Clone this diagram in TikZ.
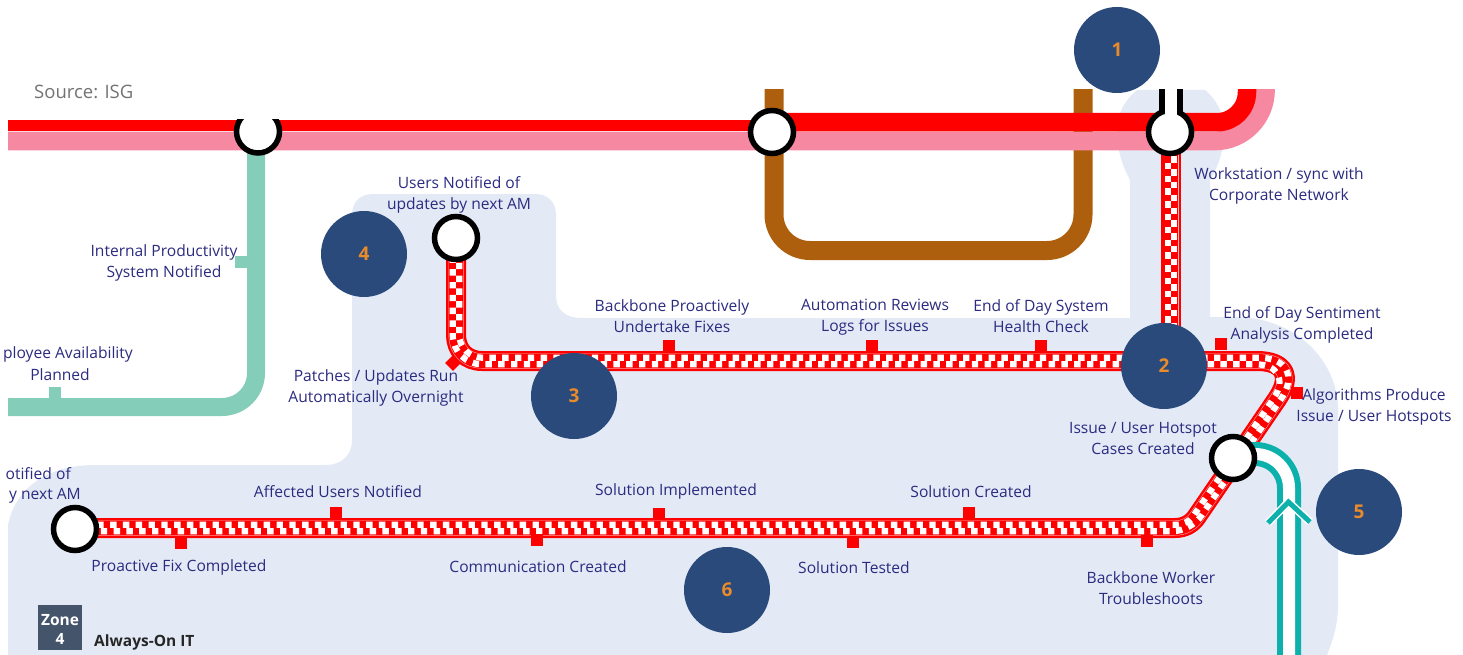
\documentclass[tikz,border=0pt]{standalone}
\usepackage{fontspec}
\setmainfont{Open Sans}
\usetikzlibrary{calc}
\definecolor{zonebg}{HTML}{E3EAF6}
\definecolor{linered}{HTML}{FF0000}
\definecolor{linepink}{HTML}{F688A2}
\definecolor{linebrown}{HTML}{AE5F0E}
\definecolor{linegreen}{HTML}{84CDB9}
\definecolor{lineteal}{HTML}{0DB1AC}
\definecolor{labelblue}{HTML}{2B2B80}
\definecolor{badge}{HTML}{2A4A7B}
\definecolor{badgetext}{HTML}{E98B2A}
\definecolor{zonebox}{HTML}{44546A}
\definecolor{railedge}{HTML}{FFB4B4}
\tikzset{
  x=1pt,y=-1pt,
  lbl/.style={inner sep=0pt,yshift=-1.5pt,text=labelblue,align=center,font=\fontsize{15.6}{21}\selectfont},
  ring/.style={circle,draw=black,line width=5.5pt,fill=white,minimum size=43pt,inner sep=0pt},
  badgenode/.style={circle,fill=badge,minimum size=86pt,inner sep=0pt,text=badgetext,font=\fontsize{19}{20}\selectfont\bfseries},
  stub/.style={fill=linered,minimum width=12pt,minimum height=12pt,inner sep=0pt},
  gstub/.style={fill=linegreen,minimum width=12pt,minimum height=12pt,inner sep=0pt},
  railbase/.style={draw=linered,line width=20pt,line join=round},
  railedgeline/.style={draw=railedge,line width=15pt,line join=round},
  railcore/.style={draw=linered,line width=14pt,line join=round},
  railrow/.style={draw=white,line width=6.2pt,dash pattern=on 6.4pt off 6.4pt},
}
\newcommand{\longrail}{(cD) -- (456,335) .. controls (456,350) and (466,361) .. (482,361)
  -- (1257,361) .. controls (1284.6,361) and (1292.6,376.2) .. (1277.1,399)
  -- (1196.9,516.4) .. controls (1192.2,523.3) and (1185,528) .. (1175,528) -- (railF)}
\begin{document}
\begin{tikzpicture}
\useasboundingbox (0,0) rectangle (1463,655);
\coordinate (cA) at (258,131.5);
\coordinate (cB) at (772,132);
\coordinate (cC) at (1170,132);
\coordinate (cD) at (456,238);
\coordinate (cE) at (1233,458);
\coordinate (cF) at (75,529);
\coordinate (railF) at (75,528);
\begin{scope}
\clip (8,90) rectangle (1463,655);
% zone background
\fill[zonebg] (8,655) -- (8,525) .. controls (15,490) and (45,465) .. (95,465)
 -- (325,465) .. controls (342,465) and (352,455) .. (352,440)
 -- (352,215) .. controls (352,202) and (360,194) .. (373,194)
 -- (535,194) .. controls (548,194) and (556,202) .. (556,215)
 -- (556,295) .. controls (556,310) and (565,318) .. (582,318)
 -- (1130,318) -- (1130,180) .. controls (1122,165) and (1117,150) .. (1117,130)
 .. controls (1117,112) and (1127,98) .. (1137,90)
 -- (1205,90) .. controls (1215,98) and (1224,112) .. (1224,130)
 .. controls (1224,150) and (1219,165) .. (1210,180)
 -- (1210,317) -- (1235,317) .. controls (1295,317) and (1338,360) .. (1338,410)
 -- (1338,605) .. controls (1338,625) and (1333,640) .. (1327,655) -- cycle;
\coordinate (gEnd) at (8,407);
\coordinate (pinkL) at (8,141);
\coordinate (pinkR) at (1265.5,80);
\coordinate (redL) at (8,125.75);
\coordinate (redM) at (772,125.75);
\coordinate (redR) at (1247,80);
\coordinate (brownA) at (774,80);
\coordinate (brownB) at (1083,80);
\coordinate (tealEnd) at (1289,665);
% brown
\draw[linebrown,line width=19pt,rounded corners=36pt] (brownA) -- (774,250.5) -- (1083,250.5) -- (brownB);
% green
\draw[linegreen,line width=18pt,rounded corners=34pt] (256,132) -- (256,407) -- (gEnd);
\node[gstub] (g1) at (241,262) {};
\node[gstub] (g2) at (55,393) {};
% main line
\draw[linepink,line width=18.75pt] (pinkL) -- (1214.5,141) .. controls (1242.6,141) and (1265.5,118.2) .. (1265.5,90) -- (pinkR);
\draw[linered,line width=11.5pt] (redL) -- (redM);
\draw[linered,line width=18.5pt] (772,122.25) -- (1217,122.25) .. controls (1233.5,122.25) and (1247,108.8) .. (1247,92) -- (redR);
% checker rail: vertical
\draw[railbase] (1171,132) -- (1171,361);
\draw[railedgeline] (1171,132) -- (1171,361);
\draw[railcore] (1171,132) -- (1171,361);
\draw[railrow] (1167.75,150) -- (1167.75,361);
\draw[railrow,dash phase=6.4pt] (1174.25,150) -- (1174.25,361);
% checker rail: long run
\draw[railbase] \longrail;
\draw[railedgeline] \longrail;
\draw[railcore] \longrail;
% rows
\draw[railrow,rounded corners=23pt] (459.25,250) -- (459.25,357.75) -- (1150,357.75);
\draw[railrow,dash phase=6.4pt,rounded corners=29pt] (452.75,250) -- (452.75,364.25) -- (1150,364.25);
\draw[railrow,rounded corners=50pt] (1150,357.75) -- (1309.1,357.75) -- (1245.6,451);
\draw[railrow,dash phase=6.4pt,rounded corners=42pt] (1150,364.25) -- (1296.9,364.25) -- (1237.8,451);
\draw[railrow,rounded corners=18pt] (1245.6,451) -- (1190.7,531.25) -- (90,531.25);
\draw[railrow,dash phase=6.4pt,rounded corners=10pt] (1237.8,451) -- (1187.3,524.75) -- (90,524.75);
% stubs
\node[stub] (t1) at (669,346) {};
\node[stub] (t2) at (872,346) {};
\node[stub] (t3) at (1041,346) {};
\node[stub] (t4) at (1221,343.5) {};
\node[stub] (t5) at (1296.5,392.5) {};
\node[stub,rotate=45,minimum width=11pt,minimum height=11pt] (t6) at (453,363) {};
\node[stub] (b1) at (336,513) {};
\node[stub] (b2) at (659,514) {};
\node[stub] (b3) at (969,512.5) {};
\node[stub] (b4) at (181,543) {};
\node[stub] (b5) at (537,540) {};
\node[stub] (b6) at (853,542) {};
\node[stub] (b7) at (1147,541) {};
% teal
\draw[lineteal,line width=24pt,rounded corners=34pt] (1245,454) -- (1289,454) -- (tealEnd);
\draw[white,line width=12pt,rounded corners=34pt] (1245,454) -- (1289,454) -- (tealEnd);
\coordinate (chevL) at (1268,523);
\coordinate (chevA) at (1288.5,502);
\coordinate (chevR) at (1310,522);
\draw[white,line width=8pt] (chevL) -- (chevA) -- (chevR);
\draw[lineteal,line width=5pt] (chevL) -- (chevA) -- (chevR);
% keyhole
\coordinate (kL) at (1162,85);
\coordinate (kR) at (1180,85);
\fill[white] (1162,90) rectangle (1180,118);
\draw[black,line width=6pt] (kL) -- (1162,112);
\draw[black,line width=6pt] (kR) -- (1180,112);
\end{scope}
% stations
\begin{scope}
\clip (8,120) rectangle (1463,655);
\node[ring] (sA) at (cA) {};
\end{scope}
\node[ring] (sB) at (cB) {};
\node[ring] (sC) at (cC) {};
\fill[white] (1165,105) rectangle (1177,120);
\node[ring] (sD) at (cD) {};
\node[ring] (sE) at (cE) {};
\node[ring] (sF) at (cF) {};
% badges
\node[badgenode] (n1) at (1117,50) {1};
\node[badgenode] (n2) at (1164,366) {2};
\node[badgenode] (n3) at (574,396) {3};
\node[badgenode] (n4) at (364,254) {4};
\node[badgenode] (n5) at (1359,512) {5};
\node[badgenode] (n6) at (727,590) {6};
% labels
\node[inner sep=0pt,anchor=west,text=black!55,font=\fontsize{18.5}{20}\selectfont] (src) at (34,92) {Source: ISG};
\node[lbl] (l1) at (459,193.5) {Users Notified of\\updates by next AM};
\node[lbl] (l2) at (1279,184) {Workstation / sync with\\Corporate Network};
\node[lbl] (l3) at (164,261) {Internal Productivity\\System Notified};
\node[lbl,anchor=east] (l4) at (133,353) {ployee Availability};
\node[lbl] (l4b) at (60,373.5) {Planned};
\node[lbl] (l5) at (376,386) {Patches / Updates Run\\Automatically Overnight};
\node[lbl] (l6) at (672,314.5) {Backbone Proactively\\Undertake Fixes};
\node[lbl] (l7) at (875,316) {Automation Reviews\\Logs for Issues};
\node[lbl] (l8) at (1041,314.5) {End of Day System\\Health Check};
\node[lbl] (l9) at (1302,323) {End of Day Sentiment\\Analysis Completed};
\node[lbl] (l10) at (1374,405) {Algorithms Produce\\Issue / User Hotspots};
\node[lbl] (l11) at (1143,437.5) {Issue / User Hotspot\\Cases Created};
\node[lbl] (l12) at (1151,586.5) {Backbone Worker\\Troubleshoots};
\node[lbl] (l13) at (338,490) {Affected Users Notified};
\node[lbl] (l14) at (676,490) {Solution Implemented};
\node[lbl] (l15) at (971,490) {Solution Created};
\node[lbl] (l16) at (179,566) {Proactive Fix Completed};
\node[lbl] (l17) at (538,565) {Communication Created};
\node[lbl] (l18) at (854,566) {Solution Tested};
\node[lbl,anchor=east] (l19) at (71,472) {otified of};
\node[lbl,anchor=east] (l20) at (81,494) {y next AM};
% zone
\node[fill=zonebox,minimum width=44pt,minimum height=45pt,inner sep=0pt] (zb) at (60,627.5) {};
\node[inner sep=0pt,text=white,align=center,font=\fontsize{15.5}{19}\selectfont\bfseries] (zl) at (60,629) {Zone\\4};
\node[inner sep=0pt,anchor=west,text=black!85,font=\fontsize{15.5}{18}\selectfont\bfseries] (zt) at (94,642.5) {Always-On IT};
\end{tikzpicture}
\end{document}
